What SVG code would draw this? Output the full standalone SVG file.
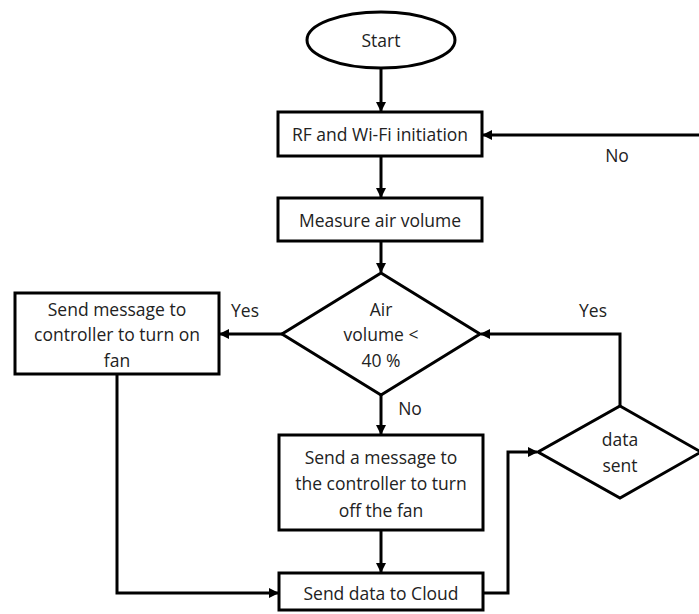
<svg xmlns="http://www.w3.org/2000/svg" width="699" height="614" viewBox="0 0 699 614">
<style>
.s{fill:#fff;stroke:#000;stroke-width:3}
.c{fill:none;stroke:#000;stroke-width:3}
text{font-family:"Open Sans","Noto Sans",sans-serif;font-size:17.5px;fill:#222;text-anchor:middle;dominant-baseline:central}
</style>
<defs>
<marker id="a" markerWidth="10" markerHeight="10" refX="9" refY="5" orient="auto" markerUnits="userSpaceOnUse">
<path d="M0,0 L10,5 L0,10 Z" fill="#000"/>
</marker>
</defs>
<rect width="699" height="614" fill="#fff"/>
<g id="connectors">
<line class="c" x1="381" y1="68" x2="381" y2="111" marker-end="url(#a)"/>
<line class="c" x1="699" y1="135" x2="483" y2="135" marker-end="url(#a)"/>
<line class="c" x1="381" y1="156" x2="381" y2="197" marker-end="url(#a)"/>
<line class="c" x1="381" y1="241" x2="381" y2="272" marker-end="url(#a)"/>
<line class="c" x1="282" y1="334" x2="220" y2="334" marker-end="url(#a)"/>
<line class="c" x1="381" y1="395" x2="381" y2="434" marker-end="url(#a)"/>
<line class="c" x1="381" y1="530" x2="381" y2="572" marker-end="url(#a)"/>
<polyline class="c" points="117,374 117,593 278,593" marker-end="url(#a)"/>
<polyline class="c" points="483,593 508,593 508,452 537,452" marker-end="url(#a)"/>
<polyline class="c" points="620,406 620,334 481,334" marker-end="url(#a)"/>
<text x="617" y="155">No</text>
<text x="245" y="310">Yes</text>
<text x="410" y="408">No</text>
<text x="593" y="310">Yes</text>
</g>
<g id="start">
<ellipse class="s" cx="381" cy="40" rx="74" ry="28"/>
<text x="381" y="40">Start</text>
</g>
<g id="rf">
<rect class="s" x="278" y="112" width="204" height="44"/>
<text x="380" y="134">RF and Wi-Fi initiation</text>
</g>
<g id="measure">
<rect class="s" x="278" y="198" width="204" height="43"/>
<text x="380" y="220">Measure air volume</text>
</g>
<g id="decision">
<polygon class="s" points="381,273 480,334 381,395 282,334"/>
<text x="381" y="309">Air</text>
<text x="381" y="334">volume &lt;</text>
<text x="381" y="360">40 %</text>
</g>
<g id="turnon">
<rect class="s" x="15" y="293" width="204" height="81"/>
<text x="117" y="309">Send message to</text>
<text x="117" y="334">controller to turn on</text>
<text x="117" y="360">fan</text>
</g>
<g id="turnoff">
<rect class="s" x="279" y="435" width="204" height="95"/>
<text x="381" y="457">Send a message to</text>
<text x="381" y="483">the controller to turn</text>
<text x="381" y="510">off the fan</text>
</g>
<g id="cloud">
<rect class="s" x="279" y="573" width="204" height="37"/>
<text x="381" y="593">Send data to Cloud</text>
</g>
<g id="datasent">
<polygon class="s" points="620,406 701,452 620,498 538,452"/>
<text x="620" y="439">data</text>
<text x="620" y="465">sent</text>
</g>
</svg>
